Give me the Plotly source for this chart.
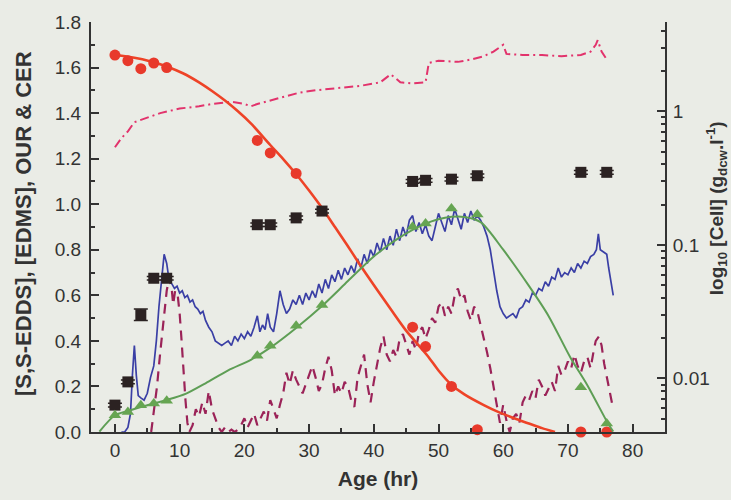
import plotly.graph_objects as go

# ---- sampled data -------------------------------------------------------
# [S,S-EDDS] measurements and model fit
edds_t = [0, 2, 4, 6, 8, 22, 24, 28, 46, 48, 52, 56, 72, 76]
edds_v = [1.655, 1.63, 1.595, 1.62, 1.60, 1.28, 1.225, 1.135, 0.46, 0.375, 0.20, 0.01, 0.0, 0.0]
edds_fit_t = [0, 3, 5.4, 8, 10.5, 13, 15, 17, 19, 21, 24, 26, 28.2, 30, 31.7, 34, 35.9, 37.5,
              40, 42.6, 45, 48.3, 50, 51.9, 54, 57, 59.3, 62, 64.2, 66, 68]
edds_fit_v = [1.655, 1.643, 1.628, 1.605, 1.575, 1.535, 1.497, 1.455, 1.408, 1.355, 1.26, 1.198,
              1.125, 1.06, 0.995, 0.90, 0.82, 0.75, 0.645, 0.54, 0.445, 0.335, 0.27, 0.21,
              0.165, 0.118, 0.087, 0.057, 0.035, 0.017, 0.0]

# [EDMS] measurements with error
edms_t = [0, 2, 4, 6, 8, 22, 24, 28, 32, 46, 48, 52, 56, 72, 76]
edms_v = [0.118, 0.22, 0.515, 0.675, 0.675, 0.91, 0.91, 0.94, 0.97, 1.10, 1.105, 1.11, 1.125, 1.14, 1.14]
edms_err = [0.008, 0.008, 0.025, 0.008, 0.008, 0.008, 0.008, 0.008, 0.008, 0.008, 0.008, 0.008,
            0.008, 0.008, 0.008]

# cell concentration (log axis) and model fit
cell_t = [0, 2, 4, 6, 8, 22, 24, 28, 32, 46, 48, 52, 56, 72, 76]
cell_v = [0.0053, 0.0056, 0.0063, 0.0065, 0.0068, 0.0148, 0.0176, 0.0248, 0.0355, 0.137, 0.1445,
          0.187, 0.169, 0.0086, 0.0046]
cell_fit_t = [-2.4, 0, 2, 4, 6, 8, 11, 14, 17.5, 21, 24, 28, 32, 36, 40, 44, 48, 51, 54, 56.5, 60,
              64, 67, 70.4, 73, 76.2, 77]
cell_fit_v = [0.0040, 0.0053, 0.0057, 0.0061, 0.0065, 0.0069, 0.0077, 0.0092, 0.0115, 0.0138,
              0.0170, 0.0239, 0.0349, 0.0536, 0.082, 0.1138, 0.1445, 0.160, 0.162, 0.148,
              0.0920, 0.0491, 0.0294, 0.0143, 0.0089, 0.0046, 0.0040]

# OUR (solid) trace
our_t = [1.0, 1.5, 2.0, 2.4, 2.7, 3.0, 3.3, 3.6, 4.0, 4.5, 5.0, 5.5, 6.0, 6.4, 6.8, 7.2, 7.6, 8.0,
         8.4, 8.8, 9.2, 9.6, 10.0, 10.4, 10.8, 11.2, 11.6, 12.0, 12.4, 12.8, 13.2, 13.6, 14.0, 14.5,
         15.0, 15.5, 16.0, 16.5, 17.0, 17.5, 18.0, 18.5, 19.0, 19.5, 20.0, 20.5, 21.0, 21.5, 22.0,
         22.4, 22.8, 23.2, 23.6, 24.0, 24.5, 25.0, 25.5, 26.0, 26.5, 27.0, 27.5, 28.0, 28.5, 29.0,
         29.5, 30.0, 30.5, 31.0, 31.5, 32.0, 32.5, 33.0, 33.5, 34.0, 34.5, 35.0, 35.5, 36.0, 36.5,
         37.0, 37.5, 38.0, 38.5, 39.0, 39.5, 40.0, 40.5, 41.0, 41.5, 42.0, 42.5, 43.0, 43.5, 44.0,
         44.5, 45.0, 45.5, 46.0, 46.5, 47.0, 47.5, 48.0, 48.5, 49.0, 49.5, 50.0, 50.5, 51.0, 51.5,
         52.0, 52.5, 53.0, 53.5, 54.0, 54.5, 55.0, 55.5, 56.0, 56.5, 57.0, 57.5, 58.0, 58.5, 59.0,
         59.5, 60.0, 60.5, 61.0, 61.5, 62.0, 62.5, 63.0, 63.5, 64.0, 64.5, 65.0, 65.5, 66.0, 66.5,
         67.0, 67.5, 68.0, 68.5, 69.0, 69.5, 70.0, 70.5, 71.0, 71.5, 72.0, 72.5, 73.0, 73.5, 74.0,
         74.4, 74.7, 75.0, 75.5, 76.0, 76.3, 76.7, 77.0]
our_v = [0.0, 0.0, 0.02, 0.08, 0.25, 0.38, 0.25, 0.16, 0.15, 0.14, 0.17, 0.24, 0.29, 0.40, 0.55,
         0.66, 0.78, 0.74, 0.66, 0.65, 0.63, 0.64, 0.61, 0.62, 0.59, 0.60, 0.57, 0.58, 0.55, 0.54,
         0.52, 0.53, 0.49, 0.46, 0.44, 0.40, 0.39, 0.38, 0.39, 0.40, 0.38, 0.42, 0.40, 0.43, 0.41,
         0.44, 0.42, 0.46, 0.51, 0.44, 0.47, 0.45, 0.52, 0.46, 0.44, 0.52, 0.62, 0.56, 0.52, 0.54,
         0.58, 0.56, 0.60, 0.56, 0.61, 0.58, 0.62, 0.59, 0.65, 0.61, 0.67, 0.63, 0.69, 0.66, 0.71,
         0.67, 0.72, 0.69, 0.73, 0.70, 0.76, 0.72, 0.78, 0.74, 0.80, 0.77, 0.83, 0.79, 0.85, 0.80,
         0.86, 0.82, 0.89, 0.84, 0.90, 0.86, 0.93, 0.95, 0.88, 0.92, 0.87, 0.91, 0.86, 0.84, 0.90,
         0.96, 0.92, 0.88, 0.95, 0.91, 0.98, 0.93, 0.89, 0.96, 0.92, 0.97, 0.93, 0.95, 0.93, 0.90,
         0.86, 0.80, 0.70, 0.62, 0.55, 0.52, 0.50, 0.51, 0.52, 0.50, 0.54, 0.55, 0.58, 0.57, 0.61,
         0.60, 0.63, 0.62, 0.66, 0.64, 0.68, 0.67, 0.72, 0.68, 0.70, 0.69, 0.72, 0.70, 0.74, 0.72,
         0.75, 0.74, 0.77, 0.78, 0.80, 0.87, 0.80, 0.79, 0.78, 0.72, 0.66, 0.60]

# CER (dashed) trace
cer_t = [5.6, 6.0, 6.5, 7.0, 7.5, 8.0, 8.4, 8.8, 9.0, 9.3, 9.7, 10.0, 10.3, 10.6, 10.9, 11.2, 11.5,
         12.0, 12.5, 13.0, 13.5, 14.0, 14.5, 15.0, 15.5, 16.0, 16.5, 17.0, 17.5, 18.0, 18.5, 19.0,
         19.5, 20.0, 20.5, 21.0, 21.5, 22.0, 22.5, 23.0, 23.5, 24.0, 24.5, 25.0, 25.5, 26.0, 26.5,
         27.0, 27.5, 28.0, 28.5, 29.0, 29.5, 30.0, 30.5, 31.0, 31.5, 32.0, 32.5, 33.0, 33.5, 34.0,
         34.5, 35.0, 35.5, 36.0, 36.5, 37.0, 37.5, 38.0, 38.5, 39.0, 39.5, 40.0, 40.5, 41.0, 41.5,
         42.0, 42.5, 43.0, 43.5, 44.0, 44.5, 45.0, 45.5, 46.0, 46.5, 47.0, 47.5, 48.0, 48.5, 49.0,
         49.5, 50.0, 50.5, 51.0, 51.5, 52.0, 52.5, 53.0, 53.5, 54.0, 54.5, 55.0, 55.5, 56.0, 56.5,
         57.0, 57.5, 58.0, 58.5, 59.0, 59.5, 60.0, 60.5, 61.0, 61.5, 62.0, 62.5, 63.0, 63.5, 64.0,
         64.5, 65.0, 65.5, 66.0, 66.5, 67.0, 67.5, 68.0, 68.5, 69.0, 69.5, 70.0, 70.5, 71.0, 71.5,
         72.0, 72.5, 73.0, 73.5, 74.0, 74.3, 74.8, 75.2, 75.6, 76.0, 76.4, 76.8, 77.0]
cer_v = [0.0, 0.08, 0.20, 0.35, 0.50, 0.62, 0.68, 0.62, 0.56, 0.62, 0.60, 0.52, 0.40, 0.26, 0.14,
         0.04, 0.0, 0.03, 0.10, 0.07, 0.13, 0.08, 0.18, 0.10, 0.06, 0.02, 0.0, 0.02, 0.0, 0.01, 0.0,
         0.01, 0.03, 0.06, 0.02, 0.05, 0.08, 0.03, 0.06, 0.09, 0.05, 0.14, 0.10, 0.06, 0.12, 0.17,
         0.26, 0.21, 0.27, 0.23, 0.20, 0.17, 0.21, 0.25, 0.29, 0.24, 0.18, 0.21, 0.28, 0.33, 0.27,
         0.16, 0.20, 0.17, 0.22, 0.20, 0.14, 0.11, 0.24, 0.29, 0.34, 0.21, 0.13, 0.22, 0.29, 0.37,
         0.42, 0.34, 0.31, 0.36, 0.33, 0.41, 0.43, 0.38, 0.34, 0.40, 0.36, 0.44, 0.46, 0.41, 0.45,
         0.50, 0.48, 0.55, 0.57, 0.51, 0.55, 0.52, 0.60, 0.63, 0.58, 0.60, 0.53, 0.49, 0.55, 0.53,
         0.47, 0.42, 0.35, 0.28, 0.20, 0.12, 0.04, 0.12, 0.05, 0.0, 0.06, 0.08, 0.04, 0.13, 0.16,
         0.14, 0.18, 0.15, 0.23, 0.20, 0.16, 0.19, 0.22, 0.18, 0.29, 0.25, 0.27, 0.31, 0.28, 0.34,
         0.29, 0.26, 0.31, 0.33, 0.28, 0.36, 0.40, 0.42, 0.38, 0.30, 0.24, 0.18, 0.12, 0.10]

# upper dash-dot trace
dd_t = [0, 1, 2, 3, 5, 7, 10, 13, 15, 18, 20, 21, 22, 24.5, 26, 28.5, 31, 33, 35, 38, 41, 42.6,
        43.5, 44.1, 46, 48, 48.5, 50, 53, 55, 57, 58.5, 59.5, 60, 60.5, 63, 66, 69, 72, 73.5, 74.3,
        74.6, 75.2, 76]
dd_v = [1.25, 1.29, 1.32, 1.36, 1.38, 1.40, 1.42, 1.43, 1.44, 1.45, 1.44, 1.43, 1.44, 1.46, 1.47,
        1.49, 1.50, 1.505, 1.51, 1.52, 1.535, 1.57, 1.55, 1.535, 1.53, 1.535, 1.62, 1.63, 1.625,
        1.635, 1.65, 1.67, 1.69, 1.70, 1.66, 1.655, 1.655, 1.65, 1.655, 1.67, 1.70, 1.72, 1.67,
        1.635]

# axis ticks
x_ticks = [0, 10, 20, 30, 40, 50, 60, 70, 80]
y_ticks = [0.0, 0.2, 0.4, 0.6, 0.8, 1.0, 1.2, 1.4, 1.6, 1.8]
cell_ticks = [0.01, 0.1, 1]
cell_tick_text = ["0.01", "0.1", "1"]
cell_minor = [0.005, 0.006, 0.007, 0.008, 0.009, 0.02, 0.03, 0.04, 0.05, 0.06, 0.07, 0.08, 0.09,
              0.2, 0.3, 0.4, 0.5, 0.6, 0.7, 0.8, 0.9, 2, 3, 4]

# ---- styling -------------------------------------------------------------
BG = "#eaece6"
AX = "#333333"
FONT = "Liberation Sans, Arial, sans-serif"

fig = go.Figure()

fig.add_trace(go.Scatter(x=dd_t, y=dd_v, mode="lines",
                         line=dict(color="#e2336c", width=2, dash="9px,4px,2px,4px")))
fig.add_trace(go.Scatter(x=cer_t, y=cer_v, mode="lines",
                         line=dict(color="#9b2358", width=2.2, dash="10px,7px")))
fig.add_trace(go.Scatter(x=our_t, y=our_v, mode="lines",
                         line=dict(color="#3a3fa5", width=1.7)))
fig.add_trace(go.Scatter(x=cell_fit_t, y=cell_fit_v, mode="lines", yaxis="y2",
                         line=dict(color="#5e9e55", width=2, shape="spline", smoothing=0.8)))
fig.add_trace(go.Scatter(x=cell_t, y=cell_v, mode="markers", yaxis="y2", cliponaxis=False,
                         marker=dict(symbol="triangle-up", size=11, color="#66a552")))
fig.add_trace(go.Scatter(x=edds_fit_t, y=edds_fit_v, mode="lines",
                         line=dict(color="#ee4327", width=2.6, shape="spline", smoothing=0.8)))
fig.add_trace(go.Scatter(x=edds_t, y=edds_v, mode="markers", cliponaxis=False,
                         marker=dict(symbol="circle", size=11, color="#e8392b")))
fig.add_trace(go.Scatter(x=edms_t, y=edms_v, mode="markers", cliponaxis=False,
                         error_y=dict(type="data", array=edms_err, visible=True,
                                      color="#2b2222", thickness=1.5, width=7),
                         marker=dict(symbol="square", size=11, color="#2b2222")))

axis_common = dict(showline=True, linecolor=AX, linewidth=2, ticks="inside",
                   tickcolor=AX, tickwidth=2, ticklen=8, showgrid=False, zeroline=False,
                   tickfont=dict(family=FONT, size=19, color="#333333"))

fig.update_layout(
    width=731, height=500,
    margin=dict(l=91, r=66, t=19, b=68),
    paper_bgcolor=BG, plot_bgcolor=BG,
    showlegend=False,
    font=dict(family=FONT, color="#333333"),
    xaxis=dict(range=[-3.7, 85.0], tickvals=x_ticks,
               minor=dict(ticks="inside", dtick=5, tick0=0, ticklen=4, tickwidth=1.5,
                          tickcolor=AX),
               title=dict(text="<b>Age (hr)</b>", font=dict(family=FONT, size=21),
                          standoff=12),
               **axis_common),
    yaxis=dict(range=[0, 1.8], tickvals=y_ticks, tickformat=".1f",
               minor=dict(ticks="inside", dtick=0.1, tick0=0, ticklen=4, tickwidth=1.5,
                          tickcolor=AX),
               ticklabelstandoff=4,
               **axis_common),
    yaxis2=dict(type="log", overlaying="y", side="right", range=[-2.401, 0.669],
                tickvals=cell_ticks, ticktext=cell_tick_text,
                minor=dict(ticks="inside", tickvals=cell_minor, ticklen=4, tickwidth=1.5,
                           tickcolor=AX),
                ticklabelstandoff=2,
                **axis_common),
    annotations=[
        dict(text="<b>[S,S-EDDS], [EDMS], OUR &amp; CER</b>", textangle=-90,
             xref="paper", yref="paper", x=-0.118, y=0.508, xanchor="center",
             yanchor="middle", showarrow=False, font=dict(family=FONT, size=22)),
        dict(text="<b>log<sub>10</sub> [Cell] (g<sub>dcw</sub>.l<sup>-1</sup>)</b>",
             textangle=-90, xref="paper", yref="paper", x=1.090, y=0.545,
             xanchor="center", yanchor="middle", showarrow=False,
             font=dict(family=FONT, size=19)),
    ],
)

fig.write_html("out.html")
